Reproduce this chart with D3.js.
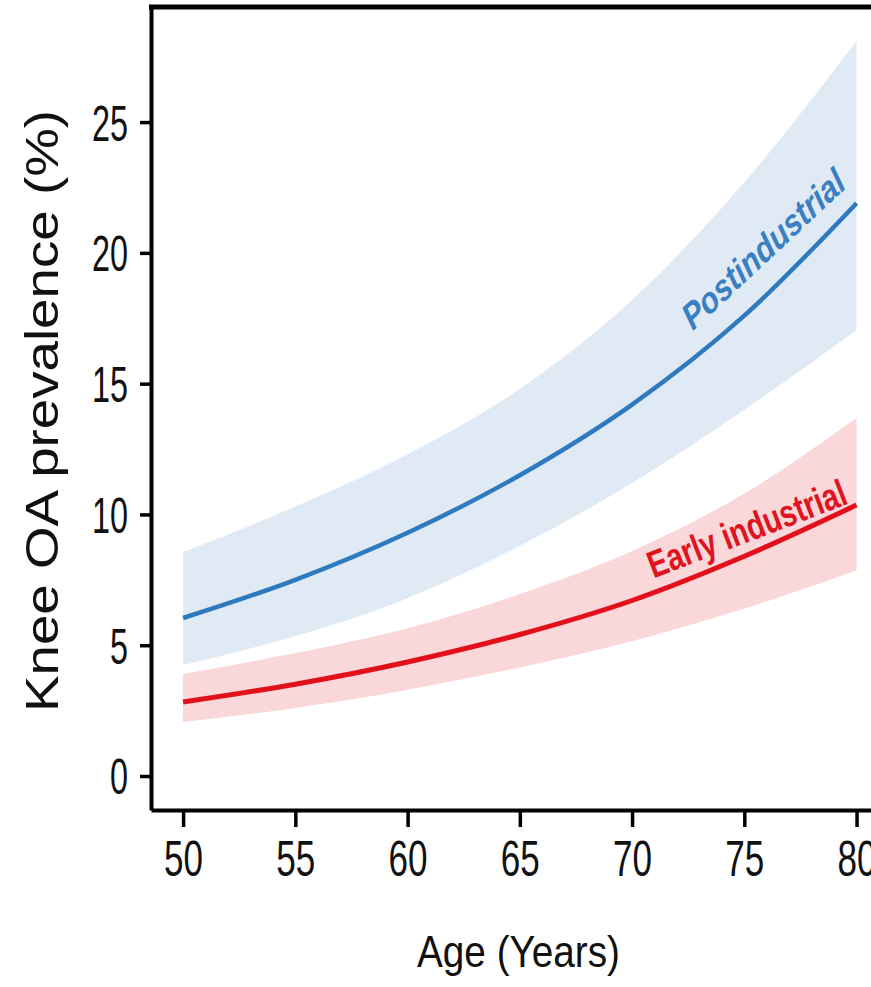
<!DOCTYPE html>
<html>
<head>
<meta charset="utf-8">
<script src="https://cdn.jsdelivr.net/npm/d3@7"></script>
<style>
  html, body { margin: 0; padding: 0; background: #fff; }
  svg { display: block; }
  text { font-family: "Liberation Sans", Arial, Helvetica, sans-serif; fill: #111; }
</style>
</head>
<body>
<div id="chart"></div>
<script>
// values (prevalence %, by age)
const ages = [50, 55, 60, 65, 70, 75, 80];

const postMid   = [6.04, 7.5, 9.3, 11.5, 14.2, 17.6, 21.9];
const postLow   = [4.24, 5.35, 6.8, 8.8, 11.2, 14.0, 17.05];
const postHigh  = [8.56, 10.3, 12.3, 14.8, 18.2, 22.7, 28.1];

const earlyMid  = [2.83, 3.51, 4.36, 5.41, 6.71, 8.4, 10.36];
const earlyLow  = [2.06, 2.6, 3.3, 4.15, 5.15, 6.4, 7.87];
const earlyHigh = [3.9, 4.7, 5.65, 6.95, 8.6, 10.8, 13.7];

const xTicks = [50, 55, 60, 65, 70, 75, 80];
const yTicks = [0, 5, 10, 15, 20, 25];

const W = 871, H = 987;

const svg = d3.select("#chart").append("svg")
    .attr("width", W)
    .attr("height", H);

// scales: plot box runs a bit past the visible right edge
const x = d3.scaleLinear().domain([48.57, 81]).range([151, 879]);
const y = d3.scaleLinear().domain([-1.3, 29.4]).range([810, 7]);

function rows(mid, lo, hi) {
    return ages.map((a, i) => ({ age: a, mid: mid[i], lo: lo[i], hi: hi[i] }));
}
const post = rows(postMid, postLow, postHigh);
const early = rows(earlyMid, earlyLow, earlyHigh);

const area = d3.area()
    .x(d => x(d.age))
    .y0(d => y(d.lo))
    .y1(d => y(d.hi))
    .curve(d3.curveMonotoneX);

const line = d3.line()
    .x(d => x(d.age))
    .y(d => y(d.mid))
    .curve(d3.curveMonotoneX);

// bands
svg.append("path").datum(post)
    .attr("d", area)
    .attr("fill", "#dfeaf4");
svg.append("path").datum(early)
    .attr("d", area)
    .attr("fill", "#fad7d9");

// lines
svg.append("path").datum(post)
    .attr("d", line)
    .attr("fill", "none")
    .attr("stroke", "#2f7abf")
    .attr("stroke-width", 4.5);
svg.append("path").datum(early)
    .attr("d", line)
    .attr("fill", "none")
    .attr("stroke", "#e1101b")
    .attr("stroke-width", 5);

// series labels
svg.append("text")
    .attr("transform", `translate(${x(72.7)},${y(17.0)}) rotate(-43) skewX(-8)`)
    .attr("textLength", 212)
    .attr("lengthAdjust", "spacingAndGlyphs")
    .style("font-size", "35px")
    .style("font-weight", "bold")
    .style("font-style", "italic")
    .style("fill", "#3a7fc2")
    .text("Postindustrial");

svg.append("text")
    .attr("transform", `translate(${x(70.95)},${y(7.55)}) rotate(-21)`)
    .attr("textLength", 210)
    .attr("lengthAdjust", "spacingAndGlyphs")
    .style("font-size", "38px")
    .style("font-weight", "bold")
    .style("fill", "#e0141e")
    .text("Early industrial");

// top border of the panel
svg.append("line")
    .attr("x1", x.range()[0] - 2).attr("x2", x.range()[1])
    .attr("y1", y.range()[1]).attr("y2", y.range()[1])
    .attr("stroke", "#000")
    .attr("stroke-width", 5);

// y axis
const yAxis = svg.append("g")
    .attr("transform", `translate(${x.range()[0]},0)`)
    .call(d3.axisLeft(y).tickValues(yTicks).tickSize(11).tickSizeOuter(0).tickPadding(12));
yAxis.select(".domain").attr("stroke-width", 4);
yAxis.selectAll(".tick line").attr("stroke-width", 3.5);
yAxis.selectAll(".tick text")
    .attr("dy", "0.36em")
    .attr("fill", "#111")
    .attr("textLength", d => String(d).length * 18)
    .attr("lengthAdjust", "spacingAndGlyphs")
    .style("font-size", "50px");

// x axis
const xAxis = svg.append("g")
    .attr("transform", `translate(0,${y.range()[0]})`)
    .call(d3.axisBottom(x).tickValues(xTicks).tickSize(17).tickSizeOuter(0).tickPadding(13));
xAxis.select(".domain").attr("stroke-width", 4);
xAxis.selectAll(".tick line").attr("stroke-width", 3.5);
xAxis.selectAll(".tick text")
    .attr("dy", "0.71em")
    .attr("fill", "#111")
    .attr("textLength", d => String(d).length * 19.5)
    .attr("lengthAdjust", "spacingAndGlyphs")
    .style("font-size", "50px");

// axis titles
svg.append("text")
    .attr("transform", "translate(58,411) rotate(-90)")
    .attr("text-anchor", "middle")
    .attr("textLength", 602)
    .attr("lengthAdjust", "spacingAndGlyphs")
    .style("font-size", "46px")
    .text("Knee OA prevalence (%)");

svg.append("text")
    .attr("x", 417)
    .attr("y", 967)
    .attr("textLength", 203)
    .attr("lengthAdjust", "spacingAndGlyphs")
    .style("font-size", "45px")
    .text("Age (Years)");
</script>
</body>
</html>
